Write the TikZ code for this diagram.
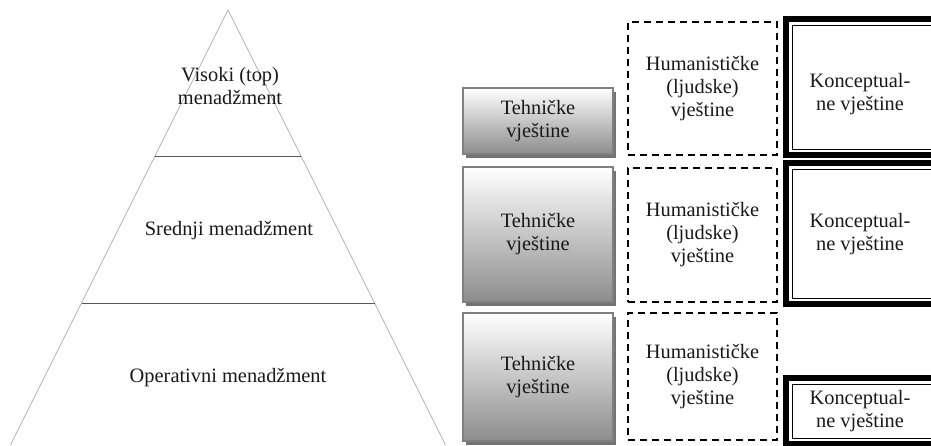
\documentclass[tikz,border=0pt]{standalone}
\usepackage{fontspec}
\setmainfont{Liberation Serif}
\usetikzlibrary{shadows}
\newcommand{\boxwd}{150}
\newcommand{\txtsize}{\fontsize{20.4}{23}\selectfont}

\begin{document}
\begin{tikzpicture}[x=1pt,y=-1pt,
    txt/.style={align=center, text=black!90, font=\txtsize, inner sep=0pt},
    tehbox/.style={txt, draw=black!50, line width=2pt, top color=white, bottom color=black!45,
      minimum width=\boxwd, drop shadow={shadow xshift=3pt, shadow yshift=-4pt, fill=black!55, opacity=1}},
    humbox/.style={txt, draw=black, line width=1.6pt, dash pattern=on 7pt off 5pt,
      minimum width=149},
    konbox/.style={draw=black, line width=6pt, minimum width=164, inner sep=0pt}]

        \clip (0,0) rectangle (931,445);

        % piramida
        \coordinate (apex) at (228,10);
        \coordinate (bl) at (10.5,445);
        \coordinate (br) at (445.5,445);
        \draw[black!40, semithick] (bl) -- (apex) -- (br);
        \draw[black!65, semithick] (155,156) -- (301,156)
        (81.5,303) -- (374.5,303);

        \node (visoki) at (230,86) [txt] {Visoki (top)\\menadžment};
        \node (srednji) at (229,231) [txt] {Srednji menadžment};
        \node (operativni) at (228,378) [txt] {Operativni menadžment};

        % tehnicke vjestine
        \node (teh1) at (538,121) [tehbox, minimum height=66] {Tehničke\\vještine};
        \node (teh2) at (538,234.5) [tehbox, minimum height=135] {Tehničke\\vještine};
        \node (teh3) at (538,377) [tehbox, minimum height=128] {Tehničke\\vještine};

        % humanisticke vjestine
        \node (hum1) at (702.5,88.5) [humbox, minimum height=133] {Humanističke\\(ljudske)\\vještine};
        \node (hum2) at (702.5,235) [humbox, minimum height=134] {Humanističke\\(ljudske)\\vještine};
        \node (hum3) at (702.5,376.5) [humbox, minimum height=127] {Humanističke\\(ljudske)\\vještine};

        % konceptualne vjestine
        \node (kon1) at (868,87) [konbox, minimum height=136] {};
        \node (kon2) at (868,233.5) [konbox, minimum height=141] {};
        \node (kon3) at (868,411) [konbox, minimum height=66] {};
        \foreach \k in {kon1,kon2,kon3}
          \draw[thin] ([shift={(9,9)}]\k.north west) rectangle ([shift={(-9,-9)}]\k.south east);

        \node (kon1t) at (860,94) [txt] {Konceptual-\\ne vještine};
        \node (kon2t) at (860,234) [txt] {Konceptual-\\ne vještine};
        \node (kon3t) at (860,411) [txt] {Konceptual-\\ne vještine};

\end{tikzpicture}
\end{document}
